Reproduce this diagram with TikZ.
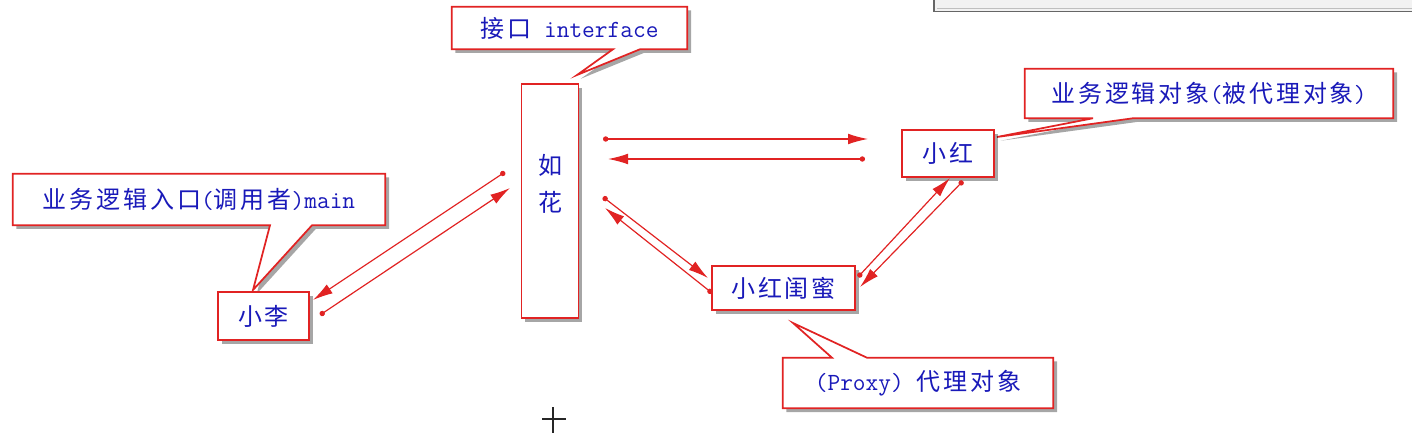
\documentclass[tikz,border=0pt]{standalone}
\usepackage{fontspec}
\setmainfont{Liberation Sans}
\newfontfamily\cjk{Noto Sans CJK SC}[LetterSpace=12]
\newcommand\monotext{\fontsize{18.5pt}{22pt}\selectfont\ttfamily}
\usetikzlibrary{shadows,calc,arrows.meta,backgrounds}
\definecolor{boxred}{RGB}{225,35,35}
\definecolor{txtblue}{RGB}{25,25,185}
\tikzset{
  shade drop/.style={drop shadow={shadow xshift=2.8pt,shadow yshift=-2.8pt,fill=black,opacity=0.35}},
  boxnode/.style={draw=boxred,line width=1.3pt,fill=white,shade drop,inner sep=0pt,
    text=txtblue,font=\fontsize{18pt}{22pt}\selectfont\cjk},
  calltext/.style={inner sep=0pt,text=txtblue,font=\fontsize{18pt}{22pt}\selectfont\cjk},
  callshape/.style={draw=boxred,line width=1.3pt,fill=white,line join=miter,shade drop},
  conn/.style={draw=boxred,line width=0.9pt,{Circle[length=4pt]}-{Latex[length=15pt,width=8pt]}}
}
\begin{document}
\begin{tikzpicture}[x=0.75pt,y=-0.75pt]
\useasboundingbox (0,0) rectangle (1412,434);
% window edge at the top right
\draw[fill=black!5,draw=black!60,line width=1pt] (934,-5) rectangle (1418,11.5);
\draw[black!25,line width=0.8pt] (937,8.5) -- (1418,8.5);

% boxes
\node[boxnode,minimum width=42.75pt,minimum height=175.5pt] (ruhua) at (550,201) {};
\node[calltext,align=center] (ruhuatext) at (550,184) {如\\[6pt]花};
\node[boxnode,minimum width=68.25pt,minimum height=36pt] (xl) at (263.5,316) {小李};
\node[boxnode,minimum width=107.25pt,minimum height=33pt] (gm) at (783.5,288) {小红闺蜜};
\node[boxnode,minimum width=69pt,minimum height=35.25pt] (xh) at (948,153.5) {小红};

% callout texts
\node[calltext,minimum width=176.25pt,minimum height=31.5pt] (ci) at (569.5,28) {接口{\monotext\ interface}};
\node[calltext,minimum width=276pt,minimum height=36.75pt] (cr) at (1209,93.5) {业务逻辑对象{\monotext(}被代理对象{\monotext)}};
\node[calltext,minimum width=279pt,minimum height=38.25pt] (cl) at (199,199.5) {业务逻辑入口{\monotext(}调用者{\monotext)main}};
\node[calltext,minimum width=202.5pt,minimum height=37.5pt] (cp) at (918,383) {{\monotext(Proxy)\ }代理对象};

\coordinate (ci-tip) at (577,75);
\coordinate (cr-tip) at (997,137);
\coordinate (cl-tip) at (253,290);
\coordinate (cp-tip) at (793,323);

\begin{scope}[on background layer]
\draw[callshape] (ci.north west) -- (ci.north east) -- (ci.south east)
  -- (640,0 |- ci.south) -- (ci-tip) -- (613,0 |- ci.south) -- (ci.south west) -- cycle;
\draw[callshape] (cr.north west) -- (cr.north east) -- (cr.south east)
  -- (1133,0 |- cr.south) -- (cr-tip) -- (1093,0 |- cr.south) -- (cr.south west) -- cycle;
\draw[callshape] (cl.north west) -- (cl.north east) -- (cl.south east)
  -- (312,0 |- cl.south) -- (cl-tip) -- (270,0 |- cl.south) -- (cl.south west) -- cycle;
\draw[callshape] (cp.north west) -- (832,0 |- cp.north) -- (cp-tip) -- (867,0 |- cp.north)
  -- (cp.north east) -- (cp.south east) -- (cp.south west) -- cycle;
\end{scope}

% connectors
\draw[conn] ($(ruhua.center)+(53,-62)$) -- ($(xh.center)+(-80,-14.5)$);
\draw[conn] ($(xh.center)+(-83,5.5)$) -- ($(ruhua.center)+(58,-42)$);
\draw[conn] ($(ruhua.center)+(53,-4)$) -- ($(gm.center)+(-75.5,-10)$);
\draw[conn] ($(gm.center)+(-71.5,5)$) -- ($(ruhua.center)+(55,7)$);
\draw[conn] ($(gm.center)+(74.5,-11)$) -- ($(xh.center)+(2,24.5)$);
\draw[conn] ($(xh.center)+(15,27.5)$) -- ($(gm.center)+(76.5,-1)$);
\draw[conn] ($(ruhua.center)+(-45,-29)$) -- ($(xl.center)+(49.5,-16)$);
\draw[conn] ($(xl.center)+(56.5,-1)$) -- ($(ruhua.center)+(-40,-13)$);

% mouse cursor
\draw[black!85,line width=1.1pt] (542,419) -- (566,419) (553,407) -- (553,433);
\end{tikzpicture}
\end{document}
